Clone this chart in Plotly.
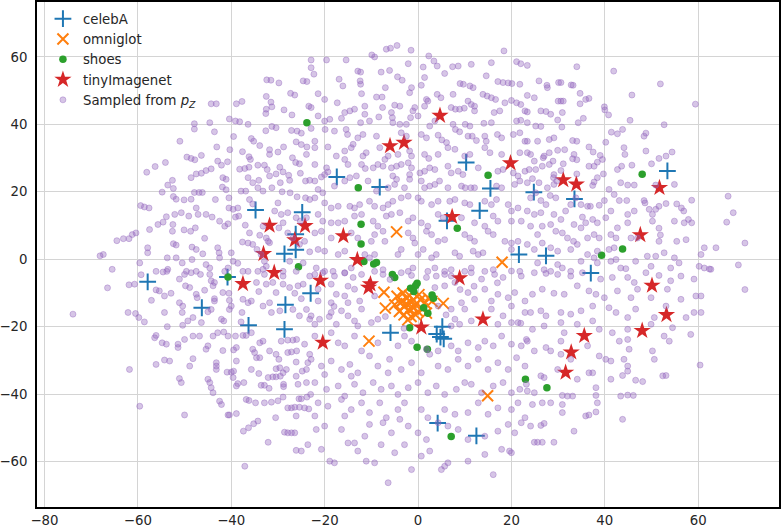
import plotly.graph_objects as go

# ---------------- data ----------------
celebA_x = [53.4, 10.3, -17.4, -8.2, 15.5, 24.8, 33.5, -34.8, -24.8, 13.2, 6.2, -26.2, -26.2, -28.6, 21.6, 27.4,
            37.0, -57.9, -40.8, -23.0, -46.3, -28.4, -36.3, -28.6, 5.2, 4.0, 4.8, 5.5, -5.9, 12.5, 4.2]
celebA_y = [26.2, 28.7, 24.4, 21.4, 21.0, 19.9, 17.9, 14.6, 13.9, 14.4, 11.4, 7.4, 2.8, 1.6, 1.4, 1.0,
            -4.1, -6.7, -5.3, -10.1, -14.4, -13.5, -19.6, -20.8, -20.0, -22.2, -23.1, -23.6, -21.8, -52.4, -48.6]

omniglot_x = [-4.6, 18.0, -7.3, -7.0, 5.4, -10.5, 14.9,
              -4.5, -3.5, -2.5, -1.5, -0.5, 0.5, 1.5, 2.2, -3.0, -2.0, -1.0, 0.0, 1.0, -4.0, -3.0, -1.5,
              -0.5, -2.5, -1.8, 0.2, -3.8, 1.8, -2.2, -5.0, 3.0, -1.0, -3.2]
omniglot_y = [8.1, -0.9, -9.8, -14.5, -13.1, -24.3, -40.5,
              -11.0, -12.5, -11.5, -12.8, -13.5, -12.0, -13.0, -11.5, -14.0, -15.0, -14.5, -15.5, -14.8, -15.5, -16.5, -17.0,
              -16.5, -13.2, -10.8, -10.5, -13.0, -16.0, -18.0, -13.5, -12.5, -12.0, -10.0]

shoes_x = [-23.8, -12.8, 15.0, 48.0, -12.2, 8.4, -12.2, 43.8, 39.3, -11.6, -9.5, -8.9, -25.6, -5.5, -5.0,
           -40.7, -0.2, -0.5, -1.6, -0.9, 3.0, 3.3, 1.2, 2.1, -1.8, -0.2, 2.0, 23.0, 27.6, 7.1]
shoes_y = [40.5, 21.2, 24.9, 25.2, 10.4, 9.2, 4.5, 3.0, 1.2, -0.7, -1.4, -1.0, -2.2, -4.5, -5.4,
           -5.3, -7.1, -7.8, -8.6, -9.6, -10.6, -11.6, -14.4, -16.0, -20.3, -26.1, -26.7, -35.6, -38.1, -52.6]

tiny_x = [4.7, -6.0, -3.0, 19.8, 31.1, 33.9, 51.7, 7.3, -31.8, -24.2, -26.4, -16.0, 47.6, -33.1, -13.0,
          -30.8, -37.5, -20.9, -10.2, -10.6, 8.9, 50.1, 53.2, 13.9, 0.7, 48.0, 35.6, -20.4, 32.8, 31.6]
tiny_y = [42.6, 33.6, 34.6, 28.5, 23.5, 22.2, 21.2, 12.6, 10.0, 9.9, 5.7, 6.9, 7.2, 1.6, -0.2,
          -4.0, -7.3, -6.3, -7.4, -8.4, -5.6, -7.8, -16.5, -17.8, -20.2, -21.2, -22.7, -24.7, -27.6, -33.6]

# samples from p_Z, (x, y) pairs read region by region
sampled_nw = [
    (-32.4,53.2),(-31.5,53.1),(-29.8,52.3),(-24.6,52.9),(-23.8,52.7),(-27.3,49.2),(-26.4,48.7),(-32.5,48.3),(-37.7,46.8),(-38.9,46.1),
    (-31.5,46.6),(-31.3,45.2),(-44.3,46.1),(-43.2,46.1),(-32.5,44.5),(-32.6,43.2),(-28.7,44.3),(-23.4,45.4),(-27.0,42.8),(-40.4,41.6),
    (-39.1,41.0),(-38.2,40.8),(-36.4,40.0),(-47.9,40.2),(-47.9,38.6),(-44.6,40.5),(-32.6,38.1),(-31.3,39.4),(-30.4,39.0),(-27.1,38.2),
    (-25.9,38.0),(-25.0,37.4),(-43.6,37.8),(-39.5,36.4),(-51.0,35.0),(-35.7,35.8),(-35.2,35.0),(-26.1,34.8),(-25.0,34.0),(-23.8,33.3),
    (-43.1,33.3),(-40.3,32.5),(-33.9,33.7),(-30.0,31.8),(-28.8,33.3),(-49.5,30.3),(-48.6,29.9),(-47.8,29.5),(-46.4,30.8),(-37.6,31.9),
    (-36.2,30.4),(-35.9,29.6),(-31.8,32.5),(-31.8,31.1),(-26.9,30.1),(-23.9,31.1),(-42.9,29.1),(-42.1,27.9),(-40.8,28.9),(-54.1,28.7),
    (-56.3,27.5),(-58.1,25.8),(-38.2,26.7),(-37.1,26.9),(-36.2,27.3),(-34.3,27.9),(-32.9,27.9),(-32.3,26.6),(-29.6,27.3),(-28.9,25.9),
    (-26.2,28.7),(-25.4,28.3),(-47.5,25.3),(-46.4,25.5),(-45.4,26.3),(-44.3,26.8),(-48.6,24.2),(-41.8,24.2),(-41.1,23.7),(-36.4,24.2),
    (-34.1,23.4),(-31.8,24.7),(-30.4,25.3),(-27.7,24.9),(-27.5,23.4),(-25.2,25.5),(-24.1,23.2),(-23.2,23.4),(-52.6,23.4),(-53.6,22.0),
    (-52.4,21.0),(-54.8,19.9),(-47.9,19.8),(-46.9,19.8),(-46.2,19.8),(-41.9,21.4),(-41.1,20.6),(-40.5,18.2),(-37.9,20.2),(-36.9,20.2),
    (-35.4,22.7),(-34.3,21.2),(-33.2,20.2),(-31.3,21.2),(-29.5,22.7),(-29.1,20.0),(-27.4,19.7),(-25.9,18.5),(-24.1,18.2),(-23.2,17.7),
    (-52.4,18.6),(-51.8,17.8),(-50.1,17.6),(-48.6,17.8),(-43.4,17.7),(-40.5,15.2),(-39.6,14.8),(-38.6,15.2),(-36.1,17.7),(-35.4,16.4),
    (-30.0,16.7),(-59.4,15.9),(-58.6,15.5),(-57.6,15.2),(-52.1,13.3),(-50.7,13.8),(-49.1,12.8),(-47.5,15.2),(-47.1,13.3),(-45.4,13.3),
    (-44.1,12.5),(-42.5,11.3),(-53.9,12.6),(-54.6,11.0),(-55.7,10.3),(-57.5,8.8),(-60.4,7.8),(-61.2,7.3),(-61.9,6.1),(-63.1,6.1),
    (-52.5,10.3),(-52.6,8.3),(-50.1,8.7),(-48.7,8.3),(-47.7,9.3),(-45.7,6.2),(-41.4,9.8),(-40.7,10.5),(-39.1,12.5),(-38.4,12.8),
    (-37.0,10.1),(-36.1,7.8),(-33.9,7.1),(-32.5,6.3),(-31.8,4.9),(-30.7,14.3),(-29.3,13.3),(-27.9,13.8),(-26.1,12.3),(-25.2,11.3),
    (-23.9,12.3),(-67.4,1.4),(-57.9,3.4),(-57.9,1.9),(-59.6,-1.1),(-53.7,0.4),(-51.8,0.4),(-50.5,-1.1),(-52.4,4.6),(-51.8,4.2),
    (-48.4,3.6),(-47.5,2.9),(-48.4,-0.1),(-46.1,1.6),(-45.4,-1.6),(-44.6,-2.6),(-42.9,3.4),(-42.6,1.9),(-42.5,0.4),(-40.0,1.9),
    (-39.6,-0.6),(-38.6,-1.2),(-37.6,5.1),(-36.4,4.8),(-27.9,7.8),(-26.8,6.3),(-25.4,4.4),(-24.3,5.3),(-23.2,2.2),(-28.9,10.8),
    (-29.8,9.3),(-33.2,9.8),(-32.1,5.3),(-35.4,4.4),(-34.5,2.9),(-33.6,1.4),(-32.9,-0.6),(-37.5,-3.6),(-36.4,-3.6),(-34.3,-3.6),
    (-32.5,-2.1),(-28.9,-3.6),(-27.5,-0.6),(-26.1,-3.6),(-24.6,-1.1),(-53.8,-3.6),(-56.1,-3.6),(-59.3,-4.6),(-49.6,-3.6),(-47.5,-3.6),
    (-41.4,-3.6),(-40.7,-2.6),(-68.1,1.0),(-64.5,5.5),(-65.5,-3.0),
]
sampled_n = [
    (-9.9,60.6),(-9.3,60.0),(-6.8,62.3),(-5.9,62.6),(-15.4,59.1),(-19.6,59.1),(2.3,60.3),(18.4,61.8),(21.1,58.6),(22.0,58.0),
    (-22.9,59.1),(-4.5,63.4),(-1.5,62.0),
    (-12.9,55.8),(-12.3,55.5),(-7.9,55.5),(-6.1,56.0),(-2.1,58.0),(1.1,57.0),(3.4,58.8),(4.1,57.3),(7.4,57.1),(8.6,57.3),(11.4,57.8),
    (5.7,55.1),(14.6,54.4),(15.7,58.3),(-22.9,56.8),(-22.3,54.9),(-16.9,53.4),(-4.4,54.1),(-3.4,53.1),(-1.4,50.9),(1.4,53.9),(9.0,52.1),
    (9.7,51.9),(17.1,52.7),(18.2,52.4),(19.3,52.3),(20.1,52.1),(21.8,51.9),
    (-21.4,49.1),(-20.0,47.4),(-16.1,51.4),(-12.4,52.9),(-12.3,51.9),(-12.1,49.1),(-8.9,48.1),(-7.7,48.1),(-7.0,50.9),(-1.8,49.4),
    (0.7,51.6),(1.8,47.4),(2.1,46.9),(4.1,48.9),(4.9,47.9),(7.5,48.9),(11.1,51.4),(11.8,50.9),(13.9,48.9),(14.8,48.4),(15.7,47.9),
    (16.6,47.4),(18.6,46.4),(20.0,47.1),(21.1,46.4),(22.0,45.9),(10.7,46.9),(11.4,45.9),
    (-22.9,45.0),(-17.3,46.4),(-15.7,43.5),(-14.6,44.0),(-13.6,44.5),(-11.4,43.0),(-11.4,45.4),(-7.6,45.0),(-5.0,45.7),(-3.9,45.4),
    (-1.1,44.0),(-0.7,45.0),(1.4,45.4),(7.1,45.0),(8.0,44.5),(8.9,44.5),(9.9,44.8),(12.1,45.4),(12.1,44.0),(16.3,43.5),(17.5,44.0),(22.9,44.0),
    (-21.4,42.5),(-20.0,41.0),(-18.9,41.5),(-16.4,41.8),(-12.3,40.5),(-10.4,41.0),(-8.4,42.2),(-5.7,43.5),(-5.5,42.0),(-5.4,40.5),
    (-3.9,40.0),(-2.5,40.0),(-1.6,42.0),(0.0,42.5),(2.5,39.5),(3.6,41.0),(7.5,40.0),(10.1,40.0),(11.1,39.5),(14.1,40.3),(15.7,40.5),
    (21.1,41.0),(22.0,41.2),
    (-22.9,38.8),(-19.9,38.5),(-17.9,38.0),(-15.4,38.5),(-15.1,37.0),(-12.9,36.0),(-11.8,37.0),(-8.9,36.5),(-3.6,37.5),(-2.5,36.5),
    (0.7,37.0),(1.8,36.0),(4.3,36.8),(5.1,35.4),(6.1,34.6),(8.0,38.5),(8.9,37.8),(10.7,36.5),(11.6,36.5),(12.5,35.2),(14.3,36.5),
    (14.6,35.0),(17.0,37.0),(17.9,36.0),(20.4,37.0),(21.8,37.5),(22.9,35.0),
    (-22.1,35.0),(-22.1,33.1),(-19.3,33.3),(-17.5,30.6),(-15.7,32.1),(-14.3,33.1),(-13.9,34.1),(-11.8,30.6),(-11.1,31.6),(-8.2,33.1),
    (-7.1,29.6),(-6.4,30.6),(-4.3,31.1),(-1.8,32.1),(-1.4,30.6),(1.4,31.1),(2.3,29.9),(4.3,31.1),(6.4,33.1),(7.9,32.6),(10.0,30.6),
    (11.1,31.1),(14.3,33.1),(15.4,31.6),(17.9,31.1),(21.8,31.6),
    (-22.1,28.1),(-19.6,27.1),(-19.3,25.9),(-15.7,29.6),(-15.0,28.1),(-12.1,28.1),(-11.3,26.9),(-9.6,27.1),(-8.6,28.1),(-7.5,27.6),
    (-5.7,27.1),(-4.6,27.6),(-3.6,28.1),(-2.1,28.6),(-1.4,27.1),(0.4,25.6),(1.4,26.1),(2.5,27.1),(3.6,26.6),(6.4,27.6),(7.1,25.6),
    (8.6,26.1),(9.6,25.1),(12.9,27.1),(17.1,26.1),(18.2,26.6),(20.4,25.6),(21.4,24.7),(22.9,26.1),
    (-22.1,23.2),(-20.7,24.4),(-20.0,25.1),(-15.7,23.2),(-14.6,24.2),(-13.2,24.7),(-10.7,23.2),(-5.4,24.7),(-4.6,23.7),(-1.8,25.1),
    (-1.8,23.7),(0.7,23.2),(3.6,22.2),(4.6,23.2),(6.4,21.2),(9.3,21.7),(10.1,21.2),(11.3,21.2),(12.1,21.2),(16.8,21.7),(17.9,21.2),
    (20.7,22.2),(21.8,23.2),(-21.4,20.7),(-20.4,19.7),(-17.9,21.7),(-8.9,20.2),(-6.4,21.2),(-5.0,22.2),(-2.9,21.2),(1.4,21.2),(2.5,21.7),
    (-22.1,18.2),(-20.0,16.7),(-18.6,15.2),(-17.1,15.7),(-14.6,15.7),(-13.6,15.2),(-12.5,16.2),(-10.4,17.2),(-9.3,15.7),(-7.5,15.2),
    (-6.4,16.2),(-5.4,17.2),(-3.6,18.2),(-2.1,18.7),(0.0,18.2),(0.7,17.2),(2.9,16.2),(4.3,17.2),(6.8,17.2),(7.9,17.7),(10.0,16.7),
    (11.1,16.2),(14.3,17.2),(15.7,16.2),(16.8,17.7),(19.3,16.2),(20.0,14.3),(21.4,15.2),
    (-21.4,13.3),(-20.4,11.3),(-18.6,10.8),(-17.1,10.8),(-15.7,11.3),(-13.6,12.8),(-12.1,13.3),(-9.6,11.3),(-8.6,9.8),(-6.8,12.8),
    (-5.7,13.3),(-3.9,13.8),(-2.1,11.3),(-1.1,12.3),(0.7,10.8),(2.1,9.8),(4.3,13.3),(5.4,12.3),(9.3,12.3),(12.1,10.8),(14.3,9.8),
    (16.1,12.8),(17.1,11.3),(20.0,11.3),(22.1,11.3),
    (-22.1,7.8),(-20.7,8.3),(-18.6,6.3),(-14.3,7.8),(-12.9,6.3),(-10.0,5.3),(-9.3,7.3),(-7.5,8.3),(-7.1,5.3),(-2.1,7.8),(-1.1,6.3),
    (-0.7,4.8),(1.8,8.3),(2.9,7.3),(4.3,5.3),(5.7,5.8),(10.0,7.3),(11.1,6.3),(12.1,5.3),(15.0,8.3),(16.1,7.3),(18.6,5.3),(20.0,4.8),(21.4,5.3),
    (-21.4,2.9),(-20.0,2.4),(-17.1,1.4),(-15.7,2.4),(-11.4,1.4),(-10.4,0.4),(-9.3,1.4),(-4.3,1.4),(-3.6,2.9),(0.0,1.4),(1.1,2.9),
    (2.9,0.4),(3.9,1.4),(7.9,1.9),(8.9,0.9),(11.8,2.4),(12.9,1.4),(13.9,1.9),(20.0,2.9),
    (-21.8,-2.6),(-20.0,-3.6),(-18.2,-3.6),(-14.3,-2.6),(-15.7,-4.1),(-9.3,-3.6),(-7.5,-3.1),(-2.1,-3.6),(-1.1,-2.6),(2.1,-3.6),
    (3.6,-2.6),(5.7,-3.6),(7.1,-3.1),(10.0,-3.6),(11.4,-2.6),(14.3,-3.6),(16.1,-3.1),(21.8,-3.6),
]
sampled_ne = [
    (23.4,57.5),(34.0,57.1),(41.9,55.8),(25.9,52.9),(27.6,51.6),(27.7,50.9),(30.1,52.4),(30.6,52.4),(32.8,51.7),(33.2,51.6),
    (51.9,52.0),(23.4,48.6),(24.9,47.9),(34.7,49.2),(45.8,48.7),(30.0,46.9),(30.6,46.9),(31.1,46.9),(34.7,46.1),(35.9,47.4),
    (36.6,47.7),(39.9,45.2),(40.0,44.3),(40.8,42.8),(59.4,46.0),(23.4,43.7),(26.3,44.0),(27.4,43.8),(28.4,43.0),(30.9,43.5),
    (35.4,41.8),(34.3,40.5),(29.9,41.3),(23.4,40.5),(25.2,39.5),(26.3,39.4),(30.8,39.2),(45.4,41.2),(52.7,39.9),(41.4,37.7),
    (42.7,37.2),(43.8,38.5),(48.4,36.5),(48.8,37.4),(23.4,35.0),(25.6,35.0),(28.1,35.5),(29.1,36.0),(33.1,35.2),(34.0,35.0),
    (36.6,33.3),(37.5,31.8),(40.2,34.7),(44.1,33.1),(44.3,31.1),(48.8,32.1),(53.1,30.6),(54.4,31.8),(51.6,29.9),(23.4,31.6),
    (24.1,31.1),(27.0,30.6),(28.1,31.6),(29.9,32.3),(31.4,32.5),(33.4,31.1),(39.0,30.8),(39.5,29.6),(38.4,28.8),(37.7,27.6),
    (24.9,29.1),(26.8,30.1),(28.9,29.1),(28.1,28.1),(31.1,28.3),(33.1,29.8),(34.0,29.5),(36.6,27.6),(39.7,25.3),(42.7,26.6),
    (43.6,27.6),(45.8,27.9),(50.0,28.3),(23.8,26.6),(25.2,26.6),(26.6,27.6),(29.1,25.1),(29.0,24.2),(30.6,26.3),(34.0,25.3),
    (38.4,24.2),(23.4,22.7),(24.5,23.9),(25.9,22.7),(27.7,21.2),(29.1,22.2),(29.7,23.2),(37.7,22.9),(37.4,21.9),(43.4,22.7),
    (44.9,22.0),(46.3,22.0),(50.9,22.0),(54.9,22.2),(24.1,18.2),(26.3,17.4),(27.4,16.2),(25.2,19.7),(28.3,18.9),(29.5,18.2),
    (32.7,16.2),(33.8,18.2),(34.9,16.2),(36.3,15.7),(36.9,15.7),(38.8,16.0),(39.9,17.4),(40.9,20.7),(42.0,19.2),(43.1,17.4),
    (44.7,17.4),(48.4,17.4),(48.6,16.7),(50.2,13.3),(49.5,14.8),(50.9,14.8),(51.6,15.7),(53.1,16.5),(55.4,16.4),(56.4,15.2),
    (56.9,14.3),(58.6,17.5),(58.6,10.8),(57.9,11.8),(66.1,11.0),(66.4,18.7),(23.4,14.3),(24.9,13.3),(26.3,13.8),(29.1,13.3),
    (30.6,11.8),(31.6,14.3),(35.2,12.5),(35.9,10.8),(37.4,11.8),(38.4,10.8),(40.2,12.3),(41.3,14.3),(42.7,9.3),(44.9,13.3),
    (44.9,10.8),(46.3,14.3),(50.2,11.3),(54.9,11.3),(57.0,10.8),(51.9,7.2),(51.6,9.2),(55.4,5.3),(24.1,9.8),(26.6,9.8),
    (25.6,7.3),(28.4,10.3),(29.5,8.3),(30.9,7.8),(33.4,10.3),(34.9,9.3),(32.0,6.3),(33.3,5.3),(36.3,6.3),(37.7,7.3),
    (38.8,6.3),(41.3,7.3),(42.4,6.3),(45.6,6.3),(47.0,6.3),(51.6,5.3),(57.4,5.8),(61.3,3.4),(63.8,3.4),(60.6,1.4),
    (23.4,4.4),(24.9,2.9),(26.6,4.8),(28.4,3.4),(29.9,2.4),(32.7,2.9),(34.1,4.4),(36.3,1.4),(38.4,2.4),(40.9,2.9),
    (42.0,3.4),(49.1,0.9),(50.9,0.9),(52.7,1.9),(54.9,0.4),(55.9,-1.1),(25.6,-1.1),(27.0,-3.1),(28.4,-3.6),(29.9,-1.6),
    (30.9,-2.6),(32.7,-3.6),(34.9,-0.6),(37.7,0.4),(38.4,-1.1),(41.3,-0.6),(42.4,-0.1),(43.4,-2.6),(44.5,-2.8),(46.6,-0.6),
    (49.9,-2.1),(54.1,-2.6),(60.2,-2.1),(61.3,-2.6),(62.4,-2.9),(67.5,13.8),(70.0,4.8),(68.6,-1.7),
]
sampled_sw = [
    (-54.6,-3.8),(-53.6,-3.0),(-51.1,-5.9),(-50.0,-4.5),(-48.6,-4.0),(-46.6,-4.5),(-44.6,-4.5),(-44.3,-6.4),(-61.9,-7.6),(-60.7,-7.4),
    (-57.1,-12.2),(-56.1,-9.1),(-55.4,-9.4),(-54.3,-10.9),(-52.9,-10.1),(-51.1,-12.9),(-50.4,-13.9),(-49.8,-7.9),(-48.9,-8.4),(-47.5,-10.4),
    (-47.3,-11.4),(-45.7,-9.2),(-43.6,-12.4),(-43.6,-11.7),(-43.9,-7.9),(-43.6,-6.9),(-41.8,-9.9),(-40.5,-10.1),(-40.4,-12.2),(-40.0,-13.9),
    (-40.4,-14.9),(-62.1,-15.8),(-60.5,-16.1),(-59.8,-17.3),(-58.6,-18.6),(-54.3,-15.8),(-53.7,-20.0),(-50.5,-15.8),(-50.4,-19.6),(-49.3,-18.3),
    (-48.2,-17.3),(-46.4,-18.8),(-45.0,-15.6),(-44.3,-14.9),(-42.1,-17.8),(-41.6,-18.3),(-37.7,-15.8),(-37.9,-18.6),(-37.5,-11.9),(-36.4,-12.9),
    (-35.7,-12.4),(-34.6,-6.9),(-34.1,-9.6),(-33.2,-13.9),(-32.5,-7.4),(-31.1,-6.9),(-30.4,-9.9),(-31.8,-12.9),(-31.4,-15.8),(-29.6,-15.3),
    (-28.9,-7.4),(-27.5,-8.4),(-25.7,-7.9),(-24.6,-7.4),(-26.8,-14.9),(-25.4,-16.8),(-23.9,-14.9),(-23.2,-17.8),(-26.4,-10.1),(-25.0,-11.7),
    (-33.2,-3.0),(-32.9,-4.5),(-28.9,-5.0),(-23.2,-5.0),(-56.4,-23.3),(-56.1,-22.6),(-54.8,-24.8),(-53.9,-25.2),(-51.4,-25.2),(-51.4,-26.2),
    (-50.0,-23.8),(-48.2,-22.8),(-46.8,-22.8),(-45.4,-26.7),(-45.0,-25.7),(-43.9,-22.8),(-42.9,-21.8),(-41.6,-21.6),(-40.7,-22.8),(-39.1,-22.8),
    (-38.9,-26.2),(-41.8,-27.1),(-39.5,-26.9),(-37.5,-22.6),(-36.8,-22.6),(-35.7,-21.8),(-35.4,-26.7),(-35.0,-27.7),(-33.9,-24.8),(-33.2,-24.3),
    (-34.6,-29.2),(-33.9,-29.2),(-31.8,-27.2),(-30.4,-28.2),(-29.8,-29.7),(-29.3,-24.3),(-27.9,-24.0),(-26.8,-24.0),(-26.0,-23.8),(-27.9,-27.7),
    (-27.1,-27.5),(-26.0,-27.2),(-24.3,-25.2),(-23.2,-28.2),(-61.8,-32.7),(-56.1,-31.2),(-54.3,-29.9),(-53.2,-30.2),(-48.9,-31.7),(-48.2,-29.5),
    (-51.1,-35.4),(-50.7,-36.6),(-45.0,-35.6),(-44.6,-36.6),(-43.2,-30.7),(-43.2,-31.7),(-43.2,-32.7),(-44.3,-38.1),(-43.9,-39.6),(-40.9,-33.5),
    (-40.0,-33.5),(-39.5,-33.2),(-38.9,-30.2),(-39.6,-35.1),(-38.9,-37.6),(-38.6,-36.9),(-37.3,-36.6),(-35.7,-32.7),(-34.1,-33.9),(-33.6,-37.4),
    (-32.9,-37.4),(-32.1,-35.1),(-31.1,-34.9),(-30.4,-34.9),(-29.5,-34.7),(-30.4,-32.5),(-29.6,-32.2),(-28.9,-33.7),(-28.2,-32.7),(-31.9,-38.3),
    (-28.8,-37.1),(-28.8,-37.8),(-26.1,-34.7),(-24.8,-33.2),(-23.9,-32.7),(-25.7,-37.1),(-23.9,-36.6),(-26.1,-30.5),(-23.6,-30.7),(-59.6,-43.6),
    (-50.0,-46.2),(-42.5,-42.1),(-42.1,-43.1),(-40.7,-46.2),(-40.4,-46.2),(-38.9,-45.8),(-36.8,-41.6),(-36.2,-41.9),(-34.8,-42.6),(-32.9,-42.6),
    (-31.4,-42.4),(-30.0,-42.0),(-28.9,-40.9),(-27.9,-44.1),(-27.1,-44.1),(-26.4,-43.9),(-25.4,-43.9),(-24.3,-44.1),(-23.4,-44.4),(-25.5,-41.4),
    (-25.0,-41.4),(-23.8,-40.9),(-23.0,-40.1),(-30.5,-47.0),(-26.1,-46.5),(-37.4,-51.0),(-36.3,-50.0),(-35.2,-48.8),(-34.3,-48.0),(-28.6,-51.3),
    (-27.9,-51.5),(-27.1,-51.5),(-26.4,-51.5),(-32.1,-54.3),(-26.1,-56.7),(-25.0,-56.9),(-23.6,-55.0),(-37.1,-61.4),(-73.9,-16.3),(-66.5,-8.5),
]
sampled_s = [
    (-22.1,-4.5),(-20.4,-4.0),(-17.9,-5.0),(-15.7,-4.0),(-13.9,-5.4),(-12.1,-4.5),(-7.5,-4.5),(-3.6,-4.0),(-1.4,-4.8),(1.8,-5.4),
    (3.9,-5.0),(5.7,-4.5),(7.1,-5.0),(11.4,-4.0),(13.6,-5.9),(16.4,-4.5),(18.2,-5.4),(20.0,-3.5),(22.1,-5.0),
    (-21.4,-8.9),(-18.6,-7.4),(-17.5,-10.4),(-15.7,-10.9),(-13.6,-8.9),(-12.5,-12.4),(-9.3,-10.9),(3.6,-8.4),(5.7,-7.9),(7.9,-6.9),
    (10.7,-9.9),(12.1,-11.9),(14.3,-8.9),(17.1,-10.4),(19.3,-11.4),(20.7,-9.9),(22.9,-12.4),(-21.4,-12.4),(-18.6,-12.9),(-15.0,-12.9),
    (9.3,-12.9),(15.7,-12.4),
    (-22.9,-16.8),(-21.1,-17.8),(-18.6,-15.8),(-16.4,-15.3),(-15.0,-16.8),(-13.6,-18.3),(-12.1,-14.8),(-10.0,-18.8),(-8.6,-17.8),(4.3,-13.9),
    (7.1,-14.8),(7.9,-17.8),(10.0,-14.8),(11.4,-18.3),(15.7,-14.8),(18.2,-16.8),(20.0,-13.9),(21.4,-18.8),(22.9,-15.8),(-22.1,-19.3),
    (-17.5,-19.3),(-12.9,-19.8),(7.1,-19.8),(8.9,-19.3),(17.1,-19.3),(20.0,-18.8),
    (-22.1,-22.8),(-18.6,-21.8),(-17.1,-24.8),(-15.7,-25.7),(-13.6,-22.8),(-12.1,-27.2),(-8.6,-24.8),(-4.3,-25.7),(-2.9,-22.8),(-1.4,-24.3),
    (1.8,-26.7),(4.3,-27.2),(7.1,-25.7),(8.6,-27.2),(10.7,-24.8),(12.9,-26.2),(14.3,-24.3),(16.1,-25.7),(17.9,-22.8),(20.0,-25.2),
    (22.1,-25.7),(23.2,-23.8),
    (-22.9,-29.7),(-20.7,-31.7),(-18.6,-30.2),(-16.4,-32.7),(-14.6,-31.2),(-12.9,-33.7),(-10.4,-28.7),(-8.6,-31.7),(-6.1,-29.7),(-3.6,-32.7),
    (-1.4,-30.7),(0.7,-33.7),(2.5,-28.2),(4.3,-31.7),(6.4,-32.7),(8.6,-29.7),(10.7,-31.7),(12.9,-29.7),(15.0,-32.7),(17.1,-30.7),
    (19.3,-32.7),(21.1,-29.2),(22.9,-31.7),(-20.0,-34.2),(-14.3,-34.7),(-6.4,-33.7),
    (-22.1,-36.6),(-19.6,-38.6),(-17.1,-37.6),(-15.7,-40.6),(-13.6,-37.1),(-11.8,-39.6),(-9.6,-36.6),(-7.9,-38.6),(-5.7,-37.6),(-4.3,-40.1),
    (-2.1,-38.1),(0.0,-36.6),(2.1,-39.6),(3.9,-37.6),(5.7,-40.1),(8.2,-38.6),(10.0,-36.6),(11.4,-37.1),(13.6,-39.6),(16.1,-37.6),
    (18.2,-36.6),(20.0,-39.6),(21.8,-38.6),(23.2,-37.1),
    (-21.4,-42.6),(-19.3,-43.6),(-16.4,-41.6),(-14.3,-44.6),(-12.1,-42.6),(-10.4,-45.5),(-8.2,-42.6),(-6.8,-47.0),(-4.3,-44.6),(-2.9,-42.6),
    (0.7,-44.6),(2.1,-47.0),(5.7,-44.6),(7.9,-46.0),(10.7,-45.5),(12.9,-42.6),(15.0,-46.0),(17.1,-44.1),(20.0,-44.6),(21.4,-42.6),
    (22.9,-47.0),(-22.1,-46.5),(-15.7,-46.5),
    (-21.8,-50.5),(-20.0,-49.5),(-16.4,-50.5),(-15.0,-54.5),(-13.6,-54.5),(-11.4,-52.5),(-10.4,-49.0),(-7.5,-48.5),(-5.7,-51.5),(-3.9,-47.5),
    (-2.1,-49.5),(0.0,-51.5),(1.8,-53.5),(4.3,-48.5),(6.4,-49.5),(8.6,-50.5),(10.7,-53.5),(14.3,-52.5),(17.1,-51.0),(19.3,-49.0),
    (20.7,-51.5),(22.1,-48.5),(20.0,-57.4),
    (-18.9,-59.9),(-17.9,-60.4),(-12.9,-56.9),(-11.1,-59.9),(-9.3,-60.4),(-7.9,-55.0),(-5.0,-57.4),(-2.9,-55.0),(-1.4,-62.4),(0.7,-58.4),
    (2.5,-56.9),(5.0,-62.4),(5.7,-61.4),(6.4,-60.4),(10.7,-59.9),(14.3,-57.9),(16.1,-63.9),(17.9,-56.4),(19.6,-56.9),(-20.7,-56.4),
    (-6.4,-66.3),(-18.0,-14.0),(-7.0,-17.0),(-6.0,-6.0),(9.0,-9.0),(12.0,-8.0),(-3.0,-20.5),(6.0,-16.5),(-15.0,-8.0),(-19.0,-17.0),
    (17.0,-7.0),(22.0,-19.0),
]
sampled_se = [
    (24.9,-4.0),(27.4,-4.2),(29.9,-4.5),(32.7,-5.0),(35.2,-4.0),(39.1,-5.9),(41.6,-5.4),(44.9,-5.4),(46.3,-6.9),(48.8,-4.0),
    (51.6,-4.8),(54.1,-6.4),(56.3,-5.0),(59.1,-5.9),(62.7,-3.0),
    (24.5,-10.4),(26.6,-8.9),(29.1,-10.1),(31.3,-10.4),(34.1,-7.9),(36.6,-9.4),(38.1,-10.4),(39.9,-11.4),(42.7,-9.4),(45.6,-11.4),
    (47.0,-8.9),(49.9,-11.4),(53.4,-8.9),(56.3,-11.9),(59.5,-10.9),(60.6,-10.9),
    (24.1,-15.8),(26.3,-15.3),(27.4,-16.8),(30.6,-15.8),(32.7,-16.3),(34.9,-15.3),(37.4,-13.9),(40.9,-14.4),(42.4,-15.8),(44.9,-17.3),
    (46.6,-14.8),(50.6,-17.3),(53.1,-13.9),(57.4,-17.3),(59.1,-15.8),(60.6,-15.8),
    (24.5,-20.8),(27.0,-19.8),(30.6,-18.8),(31.3,-21.8),(34.1,-19.3),(37.4,-18.3),(38.8,-20.8),(41.6,-21.8),(43.1,-24.3),(44.9,-20.8),
    (44.9,-23.8),(49.9,-19.3),(52.7,-22.8),(53.8,-24.3),(54.5,-20.3),(58.4,-22.3),
    (23.4,-24.3),(24.9,-27.2),(27.4,-26.2),(28.4,-27.2),(30.6,-28.2),(30.6,-24.3),(32.7,-29.7),(36.3,-25.7),(38.8,-28.7),(40.2,-29.7),
    (41.3,-30.2),(44.1,-29.7),(44.9,-31.7),(45.2,-26.7),(50.2,-27.2),(50.6,-29.7),
    (26.3,-34.6),(27.0,-35.1),(29.9,-32.7),(34.1,-35.6),(36.6,-33.7),(37.4,-33.7),(38.1,-38.1),(41.3,-35.6),(43.8,-34.5),(44.9,-33.2),
    (46.6,-35.9),(48.1,-36.3),(52.4,-34.6),(53.1,-34.5),(60.4,-31.4),(23.4,-39.1),(24.9,-39.6),
    (30.9,-40.4),(32.0,-40.6),(33.1,-40.6),(38.1,-40.4),(38.4,-42.6),(43.4,-40.6),(44.9,-40.3),(46.1,-40.4),(24.5,-43.1),(26.6,-42.6),
    (28.4,-42.6),(30.9,-43.1),(30.9,-45.5),(35.9,-46.5),(36.6,-46.2),(38.1,-45.3),(43.8,-47.5),(24.1,-49.5),(26.3,-49.3),(27.0,-48.7),
    (33.4,-51.0),(24.9,-54.3),(25.6,-54.3),(26.6,-54.3),(29.1,-54.3),(70.0,-9.0),
]

# ---------------- figure ----------------
sampled = sampled_nw + sampled_n + sampled_ne + sampled_sw + sampled_s + sampled_se
sampled_x = [p[0] for p in sampled]
sampled_y = [p[1] for p in sampled]

FONT = "DejaVu Sans"
fig = go.Figure()

fig.add_trace(go.Scatter(
    x=celebA_x, y=celebA_y, mode="markers", name="celebA",
    marker=dict(symbol="cross-thin", size=12, color="#1f77b4",
                line=dict(color="#1f77b4", width=2))))
fig.add_trace(go.Scatter(
    x=omniglot_x, y=omniglot_y, mode="markers", name="omniglot",
    marker=dict(symbol="x-thin", size=11, color="#ff7f0e",
                line=dict(color="#ff7f0e", width=2))))
fig.add_trace(go.Scatter(
    x=shoes_x, y=shoes_y, mode="markers", name="shoes",
    marker=dict(symbol="circle", size=7.5, color="#2ca02c", line=dict(width=0))))
fig.add_trace(go.Scatter(
    x=tiny_x, y=tiny_y, mode="markers", name="tinyImagenet",
    marker=dict(symbol="star", size=13, color="#d62728", line=dict(width=0))))
fig.add_trace(go.Scatter(
    x=sampled_x, y=sampled_y, mode="markers", name="Sampled from <i>p</i><sub><i>Z</i></sub>",
    marker=dict(symbol="circle", size=6, color="rgba(148,103,189,0.38)",
                line=dict(color="rgba(148,103,189,0.5)", width=0.8))))

axis_common = dict(
    showgrid=True, gridcolor="#d4d4d4", gridwidth=1, zeroline=False,
    showline=True, linecolor="black", linewidth=1.6, mirror=True, automargin=False,
    ticks="", tickfont=dict(family=FONT, size=13.3, color="#262626"),
)
fig.update_xaxes(range=[-81.6, 77.3], tickmode="array",
                 tickvals=[-80, -60, -40, -20, 0, 20, 40, 60], ticklabelstandoff=0, **axis_common)
fig.update_yaxes(range=[-73.5, 76.3], tickmode="array",
                 tickvals=[-60, -40, -20, 0, 20, 40, 60], ticklabelstandoff=5, **axis_common)

fig.update_layout(
    width=781, height=528,
    margin=dict(l=37, r=2, t=2, b=21),
    paper_bgcolor="white", plot_bgcolor="white",
    font=dict(family=FONT, size=13.3, color="#262626"),
    showlegend=True,
    legend=dict(x=0.008, y=0.997, xanchor="left", yanchor="top",
                bgcolor="rgba(0,0,0,0)", borderwidth=0,
                font=dict(family=FONT, size=13.3, color="#262626"),
                tracegroupgap=0, itemsizing="trace"),
)

# the page's default body margin would shift the figure; remove it
fig.write_html("out.html", config={"displayModeBar": False},
               post_script="document.body.style.margin='0';")
